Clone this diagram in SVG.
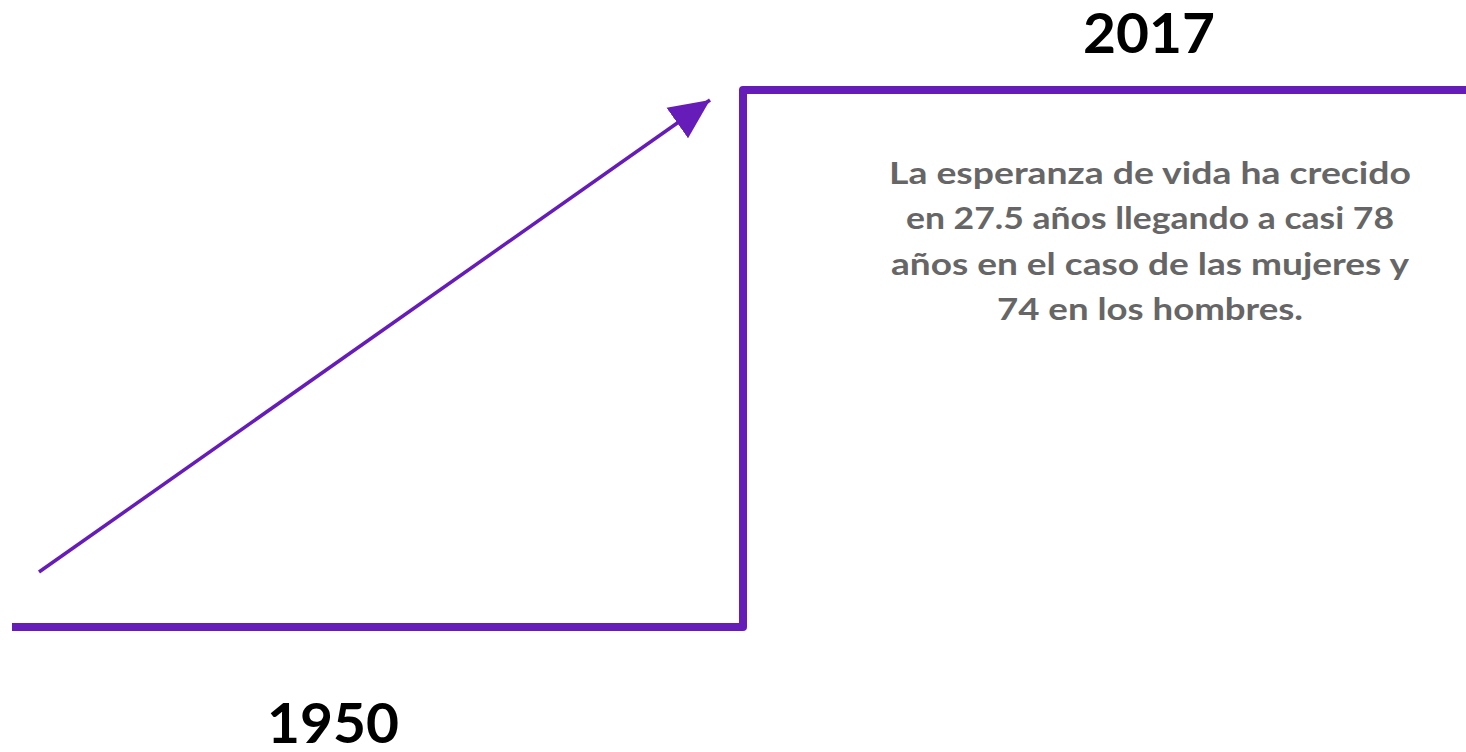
<svg xmlns="http://www.w3.org/2000/svg" width="1466" height="752" viewBox="0 0 1466 752">
<style>
.year{font-family:Lato,"Open Sans","Liberation Sans",sans-serif;font-weight:bold;font-size:56px;fill:#000;text-anchor:middle}
.para{font-family:Lato,"Open Sans","Liberation Sans",sans-serif;font-weight:bold;font-size:31px;fill:#666;text-anchor:middle}
.ln{fill:none;stroke:#661cb9;stroke-linejoin:round}
</style>
<defs>
<marker id="ah" markerUnits="userSpaceOnUse" markerWidth="40" markerHeight="40" refX="30" refY="14" orient="auto" viewBox="0 0 30 28">
<path d="M0,0 L30,14 L0,28 Z" fill="#661cb9"/>
</marker>
</defs>
<rect width="1466" height="752" fill="#fff"/>
<g id="connectors">
<path class="ln" d="M12,627 H743 V90 H1466" stroke-width="8"/>
<line class="ln" x1="39" y1="572" x2="710" y2="100" stroke-width="3.5" marker-end="url(#ah)"/>
</g>
<g id="label-2017"><text class="year" x="1149" y="53" textLength="132" lengthAdjust="spacingAndGlyphs">2017</text></g>
<g id="label-1950"><text class="year" x="333" y="743" textLength="132" lengthAdjust="spacingAndGlyphs">1950</text></g>
<g id="description">
<text class="para" x="1150" y="184" textLength="522" lengthAdjust="spacingAndGlyphs">La esperanza de vida ha crecido</text>
<text class="para" x="1150" y="229" textLength="488" lengthAdjust="spacingAndGlyphs">en 27.5 años llegando a casi 78</text>
<text class="para" x="1150" y="275" textLength="518" lengthAdjust="spacingAndGlyphs">años en el caso de las mujeres y</text>
<text class="para" x="1150" y="320" textLength="306" lengthAdjust="spacingAndGlyphs">74 en los hombres.</text>
</g>
</svg>
